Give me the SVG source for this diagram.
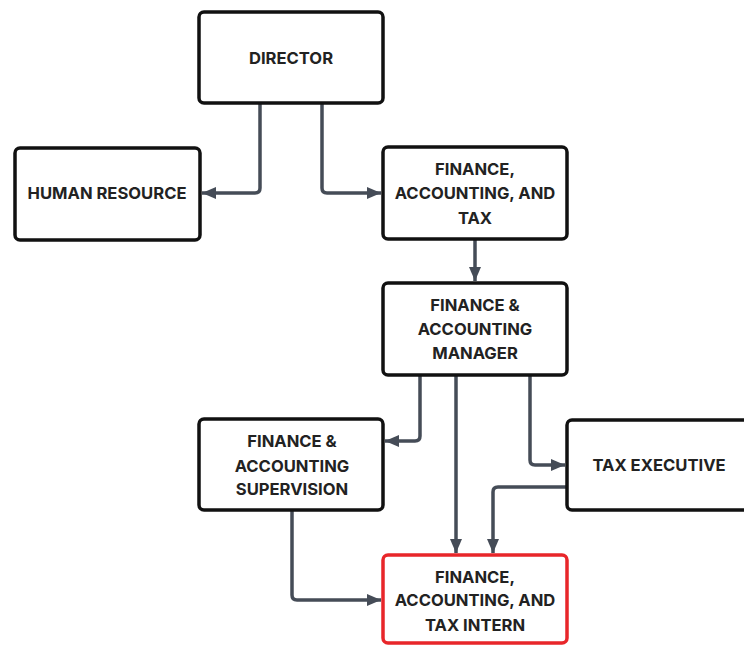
<svg xmlns="http://www.w3.org/2000/svg" width="744" height="646" viewBox="0 0 744 646">
<defs>
<marker id="ah" markerWidth="14" markerHeight="12" refX="14" refY="6" orient="auto" markerUnits="userSpaceOnUse">
<path d="M0,0 L14,6 L0,12 Z" fill="#454c57"/>
</marker>
<style>
.box{fill:#fff;stroke:#111;stroke-width:3.5}
.red{fill:#fff;stroke:#e8262a;stroke-width:3.5}
.lbl{font-family:Inter,"Liberation Sans",sans-serif;font-weight:700;font-size:16.6px;fill:#222;text-anchor:middle}
.con{fill:none;stroke:#454c57;stroke-width:3.5;stroke-linejoin:round}
</style>
</defs>
<rect width="744" height="646" fill="#fff"/>
<g id="connectors">
<path class="con" d="M260,104 V188 Q260,193 255,193 H202" marker-end="url(#ah)"/>
<path class="con" d="M322,104 V188 Q322,193 327,193 H381" marker-end="url(#ah)"/>
<path class="con" d="M475,240 V281" marker-end="url(#ah)"/>
<path class="con" d="M420,376 V436 Q420,441 415,441 H385" marker-end="url(#ah)"/>
<path class="con" d="M456,376 V553" marker-end="url(#ah)"/>
<path class="con" d="M530,376 V460 Q530,465 535,465 H565" marker-end="url(#ah)"/>
<path class="con" d="M567,487 H498 Q493,487 493,492 V553" marker-end="url(#ah)"/>
<path class="con" d="M292,511 V595 Q292,600 297,600 H381" marker-end="url(#ah)"/>
</g>
<g id="director">
<rect class="box" x="199" y="12" width="184" height="91" rx="5"/>
<text class="lbl" x="291" y="64">DIRECTOR</text>
</g>
<g id="human-resource">
<rect class="box" x="15" y="148" width="185" height="92" rx="5"/>
<text class="lbl" x="107" y="199">HUMAN RESOURCE</text>
</g>
<g id="finance-accounting-tax">
<rect class="box" x="383" y="147" width="184" height="92" rx="5"/>
<text class="lbl" x="475" y="175">FINANCE,</text>
<text class="lbl" x="475" y="199">ACCOUNTING, AND</text>
<text class="lbl" x="475" y="224">TAX</text>
</g>
<g id="manager">
<rect class="box" x="383" y="283" width="184" height="92" rx="5"/>
<text class="lbl" x="475" y="311">FINANCE &amp;</text>
<text class="lbl" x="475" y="335">ACCOUNTING</text>
<text class="lbl" x="475" y="359">MANAGER</text>
</g>
<g id="supervision">
<rect class="box" x="199" y="419" width="184" height="91" rx="5"/>
<text class="lbl" x="292" y="447">FINANCE &amp;</text>
<text class="lbl" x="292" y="472">ACCOUNTING</text>
<text class="lbl" x="292" y="495">SUPERVISION</text>
</g>
<g id="tax-executive">
<rect class="box" x="567" y="420" width="190" height="90" rx="5"/>
<text class="lbl" x="659" y="471">TAX EXECUTIVE</text>
</g>
<g id="intern">
<rect class="red" x="383" y="555" width="184" height="88" rx="5"/>
<text class="lbl" x="475" y="583">FINANCE,</text>
<text class="lbl" x="475" y="606">ACCOUNTING, AND</text>
<text class="lbl" x="475" y="631">TAX INTERN</text>
</g>
</svg>
